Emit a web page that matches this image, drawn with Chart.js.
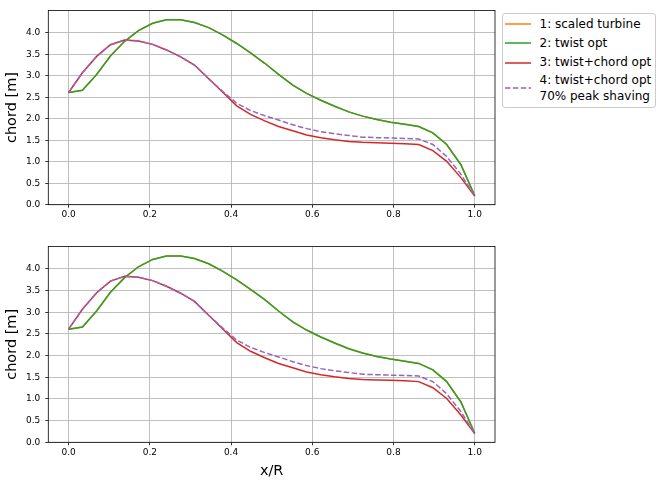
<!DOCTYPE html>
<html>
<head>
<meta charset="utf-8">
<script src="https://cdn.jsdelivr.net/npm/chart.js@4.4.1/dist/chart.umd.min.js"></script>
<style>
  body { margin: 0; background: #fff; width: 662px; height: 484px; position: relative; overflow: hidden; font-family: "DejaVu Sans", sans-serif; }
  canvas { position: absolute; left: 0; }
  #top { top: 0; }
  #bottom { top: 236px; }
  #legend {
    position: absolute; left: 501.5px; top: 13px; width: 154.5px; height: 95px;
    box-sizing: border-box; border: 1px solid #ccc; border-radius: 3px;
    padding-top: 0.5px; font-size: 12px; color: #000;
  }
  .row { display: flex; align-items: center; }
  .row svg { margin-left: 2px; margin-right: 9px; flex: none; }
  .row span { line-height: 19.2px; white-space: nowrap; }
  .row.multi span { line-height: 16px; }
</style>
</head>
<body>
<canvas id="top" width="500" height="222"></canvas>
<canvas id="bottom" width="500" height="248"></canvas>
<div id="legend"></div>
<script>
// radial stations x/R
const xR = [0, 0.034, 0.069, 0.103, 0.138, 0.172, 0.207, 0.241, 0.276, 0.310,
  0.345, 0.379, 0.414, 0.448, 0.483, 0.517, 0.552, 0.586, 0.621, 0.655,
  0.690, 0.724, 0.759, 0.793, 0.828, 0.862, 0.897, 0.931, 0.966, 1.0];

// chord [m] per design (1 sits underneath 2)
const scaledTurbine = [2.61, 2.66, 3.03, 3.46, 3.80, 4.05, 4.22, 4.30, 4.30, 4.24,
  4.12, 3.95, 3.75, 3.53, 3.29, 3.03, 2.78, 2.59, 2.43, 2.29,
  2.16, 2.06, 1.98, 1.92, 1.87, 1.82, 1.67, 1.40, 0.93, 0.21];
const twistOpt = [2.61, 2.66, 3.03, 3.46, 3.80, 4.05, 4.22, 4.30, 4.30, 4.24,
  4.12, 3.95, 3.75, 3.53, 3.29, 3.03, 2.78, 2.59, 2.43, 2.29,
  2.16, 2.06, 1.98, 1.92, 1.87, 1.82, 1.67, 1.40, 0.93, 0.21];
const twistChordOpt = [2.61, 3.07, 3.45, 3.72, 3.83, 3.81, 3.73, 3.60, 3.44, 3.25,
  2.93, 2.62, 2.30, 2.10, 1.95, 1.82, 1.72, 1.62, 1.56, 1.51,
  1.47, 1.45, 1.44, 1.43, 1.42, 1.40, 1.26, 1.01, 0.63, 0.20];
const peakShaving = [2.61, 3.07, 3.45, 3.72, 3.83, 3.81, 3.73, 3.60, 3.44, 3.25,
  2.93, 2.64, 2.36, 2.19, 2.07, 1.97, 1.86, 1.77, 1.70, 1.65,
  1.61, 1.57, 1.56, 1.55, 1.54, 1.53, 1.40, 1.12, 0.71, 0.20];

const seriesNames = ["1: scaled turbine", "2: twist opt", "3: twist+chord opt", ["4: twist+chord opt", "70% peak shaving"]];
const xTicks = [0, 0.2, 0.4, 0.6, 0.8, 1.0];
const yTicks = [0, 0.5, 1.0, 1.5, 2.0, 2.5, 3.0, 3.5, 4.0];

const allSeries = [scaledTurbine, twistOpt, twistChordOpt, peakShaving];
const colours = ["#ff7f0e", "#2ca02c", "#d62728", "#9467bd"];
const dashes = [[], [], [], [5.5, 2.4]];

const font = "'DejaVu Sans', sans-serif";

const frame = {
  id: "frame",
  afterDatasetsDraw(chart) {
    const { ctx, chartArea: a } = chart;
    ctx.save();
    ctx.strokeStyle = "#000";
    ctx.lineWidth = 0.8;
    ctx.strokeRect(a.left, a.top, a.right - a.left, a.bottom - a.top);
    ctx.restore();
  },
};

function makeChart(id, xTitle, xHeight, padTop) {
  const datasets = allSeries.map((values, i) => ({
    label: [].concat(seriesNames[i]).join(" "),
    data: values.map((v, j) => ({ x: xR[j], y: v })),
    borderColor: colours[i],
    borderWidth: 1.5,
    borderDash: dashes[i],
    pointRadius: 0,
    tension: 0,
    fill: false,
    order: allSeries.length - i,
  }));

  return new Chart(document.getElementById(id).getContext("2d"), {
    type: "line",
    data: { datasets: datasets },
    plugins: [frame],
    options: {
      responsive: false,
      animation: false,
      layout: { padding: { top: padTop, right: 5, left: 0, bottom: 0 } },
      plugins: { legend: { display: false }, tooltip: { enabled: false } },
      scales: {
        x: {
          type: "linear",
          min: -0.05,
          max: 1.05,
          afterBuildTicks: (scale) => { scale.ticks = xTicks.map((v) => ({ value: v })); },
          afterFit: (scale) => { scale.height = xHeight; },
          ticks: {
            autoSkip: false, maxRotation: 0, padding: 2, color: "#000",
            font: { family: font, size: 9 },
            callback: (v) => v.toFixed(1),
          },
          grid: { color: "#b0b0b0", lineWidth: 0.8, tickColor: "#000", tickLength: 3, tickWidth: 0.8 },
          border: { display: false },
          title: {
            display: !!xTitle, text: xTitle, color: "#000",
            font: { family: font, size: 14.5 }, padding: { top: 0, bottom: 4.3 },
          },
        },
        y: {
          min: 0,
          max: 4.52,
          afterBuildTicks: (scale) => { scale.ticks = yTicks.map((v) => ({ value: v })); },
          afterFit: (scale) => { scale.width = 48.3; },
          ticks: {
            autoSkip: false, padding: 5, color: "#000",
            font: { family: font, size: 9 },
            callback: (v) => v.toFixed(1),
          },
          grid: { color: "#b0b0b0", lineWidth: 0.8, tickColor: "#000", tickLength: 3, tickWidth: 0.8 },
          border: { display: false },
          title: {
            display: true, text: "chord [m]", color: "#000",
            font: { family: font, size: 14.5 }, padding: { top: 4, bottom: 0 },
          },
        },
      },
    },
  });
}

makeChart("top", "", 17.3, 6);
makeChart("bottom", "x/R", 41.7, 8);

// legend box, as in the top panel
const legend = document.getElementById("legend");
seriesNames.forEach((name, i) => {
  const lines = [].concat(name);
  const row = document.createElement("div");
  row.className = lines.length > 1 ? "row multi" : "row";
  row.innerHTML =
    `<svg width="26" height="4"><line x1="0" y1="2" x2="26" y2="2" stroke="${colours[i]}" stroke-width="1.5"` +
    (dashes[i].length ? ` stroke-dasharray="${dashes[i].join(" ")}"` : "") +
    `/></svg><span>${lines.join("<br>")}</span>`;
  legend.appendChild(row);
});
</script>
</body>
</html>
